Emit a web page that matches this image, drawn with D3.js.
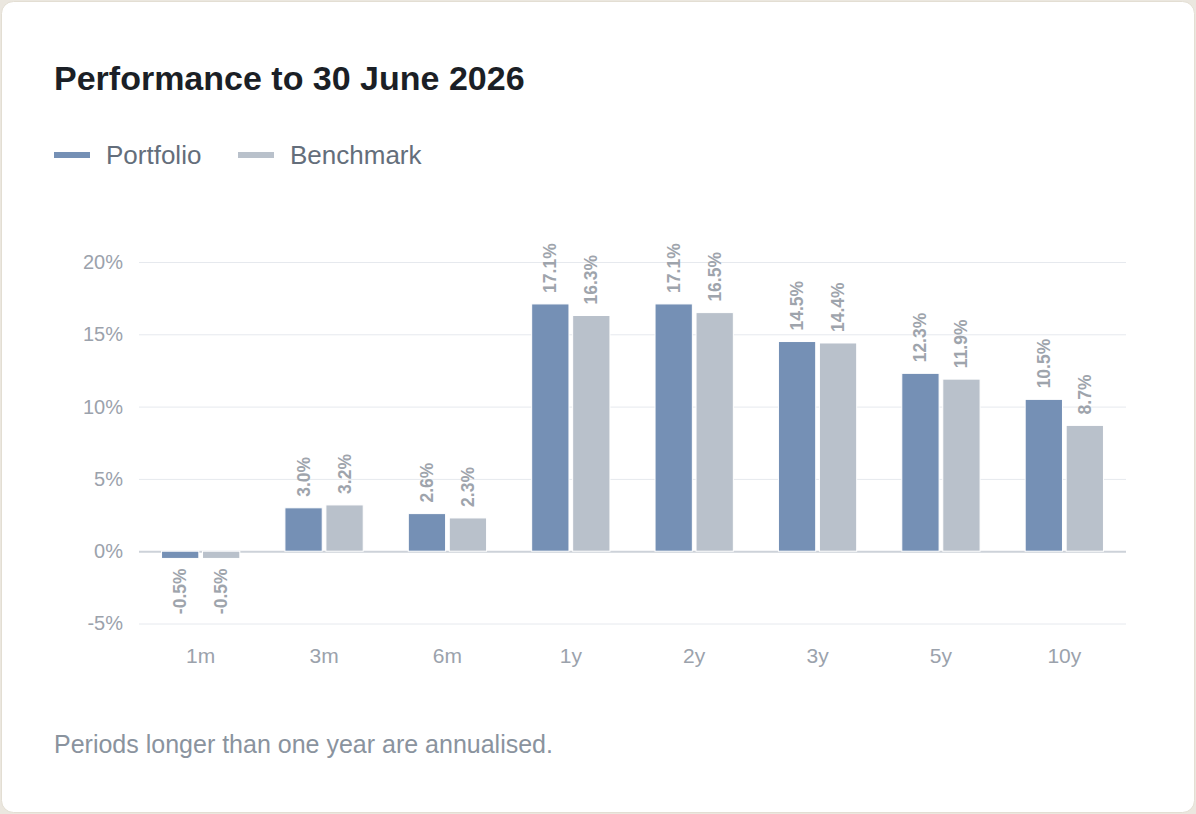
<!DOCTYPE html>
<html>
<head>
<meta charset="utf-8">
<script src="https://cdnjs.cloudflare.com/ajax/libs/d3/7.8.5/d3.min.js"></script>
<style>
    html, body { margin: 0; padding: 0; background: #ebe7df; }
    svg { display: block; font-family: "Liberation Sans", Arial, sans-serif; }
</style>
</head>
<body>
<svg id="chart"></svg>
<script>
var periods = ["1m", "3m", "6m", "1y", "2y", "3y", "5y", "10y"]
var seriesNames = ["Portfolio", "Benchmark"]
var portfolio = [-0.5, 3.0, 2.6, 17.1, 17.1, 14.5, 12.3, 10.5]
var benchmark = [-0.5, 3.2, 2.3, 16.3, 16.5, 14.4, 11.9, 8.7]
var yTicks = [-5, 0, 5, 10, 15, 20]

var colors = { Portfolio: "#7590b5", Benchmark: "#b9c1cb" }

var dimensions = {
    width: 1196,
    height: 814,
    margin: { top: 262, bottom: 190.5, left: 139, right: 70 }
}

var svg = d3.select("#chart")
    .attr("width", dimensions.width)
    .attr("height", dimensions.height)

// card
svg.append("rect")
    .attr("x", 1.5).attr("y", 1.5)
    .attr("width", dimensions.width - 3)
    .attr("height", dimensions.height - 3)
    .attr("rx", 12)
    .attr("fill", "#ffffff")
    .attr("stroke", "#e3ded3")
    .attr("stroke-width", 1)

svg.append("text")
    .attr("x", 54).attr("y", 90)
    .attr("font-size", 34)
    .attr("font-weight", "bold")
    .attr("fill", "#1b1f26")
    .text("Performance to 30 June 2026")

// legend
var legendX = [54, 238]
var legend = svg.append("g")
    .selectAll("g")
    .data(seriesNames)
    .enter()
    .append("g")
    .attr("transform", (d, i) => "translate(" + legendX[i] + ",155)")
legend.append("rect")
    .attr("x", 0).attr("y", -3)
    .attr("width", 36).attr("height", 6)
    .attr("fill", d => colors[d])
legend.append("text")
    .attr("x", 52).attr("y", 9)
    .attr("font-size", 26)
    .attr("fill", "#646e7b")
    .text(d => d)

var rows = periods.map(function (p, i) {
    return { period: p, values: [
        { name: "Portfolio", value: portfolio[i] },
        { name: "Benchmark", value: benchmark[i] }
    ] }
})

var xScale = d3.scaleBand()
    .domain(periods)
    .range([dimensions.margin.left, dimensions.width - dimensions.margin.right])
    .padding(0)

var xInner = d3.scaleBand()
    .domain(seriesNames)
    .range([0, xScale.bandwidth()])
    .paddingInner(0.09)
    .paddingOuter(0.55)

var yScale = d3.scaleLinear()
    .domain([-5, 20])
    .range([dimensions.height - dimensions.margin.bottom, dimensions.margin.top])

// grid
var yAxis = d3.axisLeft(yScale)
    .tickValues(yTicks)
    .tickSize(-(dimensions.width - dimensions.margin.left - dimensions.margin.right))
    .tickPadding(16)
    .tickFormat(d => d + "%")

var yG = svg.append("g")
    .attr("class", "y-axis")
    .attr("transform", "translate(" + dimensions.margin.left + ",0)")
    .call(yAxis)
yG.select(".domain").remove()
yG.selectAll(".tick line")
    .attr("stroke", d => d === 0 ? "#cdd2d9" : "#e6e9ee")
    .attr("stroke-width", d => d === 0 ? 2 : 1)
yG.selectAll(".tick text")
    .attr("font-size", 20)
    .attr("font-family", "Liberation Sans, Arial, sans-serif")
    .attr("fill", "#9ba2ac")

// bars
var groups = svg.append("g")
    .selectAll("g")
    .data(rows)
    .enter()
    .append("g")
    .attr("transform", d => "translate(" + xScale(d.period) + ",0)")

groups.selectAll("rect")
    .data(d => d.values)
    .enter()
    .append("rect")
    .attr("x", d => xInner(d.name))
    .attr("y", d => yScale(Math.max(0, d.value)))
    .attr("width", xInner.bandwidth())
    .attr("height", d => Math.abs(yScale(d.value) - yScale(0)))
    .attr("fill", d => colors[d.name])
    .attr("stroke", "#ffffff")
    .attr("stroke-width", 1)

groups.selectAll("text")
    .data(d => d.values)
    .enter()
    .append("text")
    .attr("transform", function (d) {
        var cx = xInner(d.name) + xInner.bandwidth() / 2
        var cy = d.value >= 0 ? yScale(d.value) - 11 : yScale(d.value) + 10
        return "translate(" + cx + "," + cy + ") rotate(-90)"
    })
    .attr("text-anchor", d => d.value >= 0 ? "start" : "end")
    .attr("dominant-baseline", "central")
    .attr("font-size", 17.5)
    .attr("font-weight", "bold")
    .attr("fill", "#9ea4ac")
    .text(d => d.value.toFixed(1) + "%")

// x axis labels
var xAxis = d3.axisBottom(xScale).tickSize(0).tickPadding(0)
var xG = svg.append("g")
    .attr("class", "x-axis")
    .attr("transform", "translate(0," + 648 + ")")
    .call(xAxis)
xG.select(".domain").remove()
xG.selectAll(".tick text")
    .attr("font-size", 21)
    .attr("font-family", "Liberation Sans, Arial, sans-serif")
    .attr("fill", "#9ba2ac")

svg.append("text")
    .attr("x", 54).attr("y", 753)
    .attr("font-size", 25)
    .attr("fill", "#8a939e")
    .text("Periods longer than one year are annualised.")
</script>
</body>
</html>
